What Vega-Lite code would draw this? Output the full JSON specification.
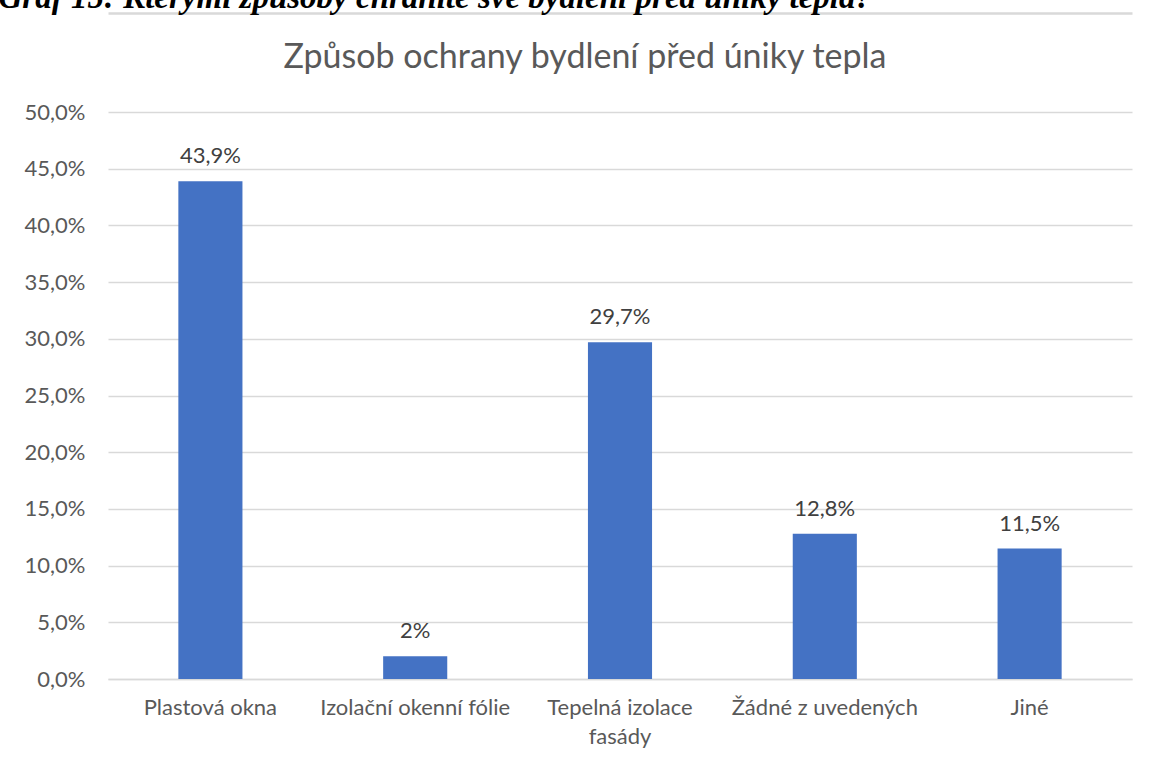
{
  "$schema": "https://vega.github.io/schema/vega-lite/v6.json",
  "width": 1024,
  "height": 567,
  "autosize": {"type": "none"},
  "padding": {"left": 108, "top": 112, "right": 19, "bottom": 81},
  "background": "white",
  "title": {
    "text": "Způsob ochrany bydlení před úniky tepla",
    "anchor": "middle",
    "frame": "group",
    "dx": -35,
    "dy": 120,
    "offset": 26,
    "font": "Lato",
    "fontSize": 34,
    "fontWeight": "normal",
    "color": "#595959"
  },
  "data": {
    "values": [
      {"kategorie": "Plastová okna", "podil": 0.439, "popisek": "43,9%"},
      {"kategorie": "Izolační okenní fólie", "podil": 0.02, "popisek": "2%"},
      {"kategorie": "Tepelná izolace fasády", "podil": 0.297, "popisek": "29,7%"},
      {"kategorie": "Žádné z uvedených", "podil": 0.128, "popisek": "12,8%"},
      {"kategorie": "Jiné", "podil": 0.115, "popisek": "11,5%"}
    ]
  },
  "encoding": {
    "x": {
      "field": "kategorie",
      "type": "nominal",
      "sort": null,
      "scale": {"paddingInner": 0.687, "paddingOuter": 0.3435},
      "axis": {
        "orient": "bottom",
        "title": null,
        "labelAngle": 0,
        "labelFont": "Lato",
        "labelFontSize": 22,
        "labelColor": "#595959",
        "labelPadding": 18,
        "labelLineHeight": 29,
        "labelLimit": 400,
        "labelExpr": "datum.label == 'Tepelná izolace fasády' ? ['Tepelná izolace', 'fasády'] : datum.label",
        "ticks": false,
        "domainColor": "#d9d9d9",
        "domainWidth": 1.5
      }
    },
    "y": {
      "field": "podil",
      "type": "quantitative",
      "scale": {"domain": [0, 0.5], "nice": false},
      "axis": {
        "title": null,
        "values": [0, 0.05, 0.1, 0.15, 0.2, 0.25, 0.3, 0.35, 0.4, 0.45, 0.5],
        "labelExpr": "replace(format(datum.value, '.1%'), '.', ',')",
        "labelFont": "Lato",
        "labelFontSize": 22,
        "labelColor": "#595959",
        "labelPadding": 23,
        "ticks": false,
        "domain": false,
        "gridColor": "#d9d9d9",
        "gridWidth": 1.5
      }
    }
  },
  "layer": [
    {"mark": {"type": "bar", "color": "#4472C4"}},
    {
      "mark": {"type": "text", "baseline": "alphabetic", "dy": -18, "font": "Lato", "fontSize": 22, "color": "#404040"},
      "encoding": {
        "text": {"field": "popisek"},
        "x": {
          "field": "kategorie",
          "type": "nominal",
          "sort": null,
          "axis": {
            "orient": "top",
            "offset": 99,
            "title": "Graf 15: Kterými způsoby chráníte své bydlení před úniky tepla?",
            "titleX": -110,
            "titleY": -6,
            "titleAngle": 0,
            "titleAnchor": "start",
            "titleAlign": "left",
            "titleBaseline": "alphabetic",
            "titleFont": "Liberation Serif",
            "titleFontStyle": "italic",
            "titleFontWeight": "bold",
            "titleFontSize": 33,
            "titleLimit": 2000,
            "titleColor": "#000000",
            "labels": false,
            "ticks": false,
            "domain": true,
            "domainColor": "#d9d9d9",
            "domainWidth": 2.5,
            "grid": false
          }
        }
      }
    }
  ],
  "config": {"view": {"stroke": null}}
}
